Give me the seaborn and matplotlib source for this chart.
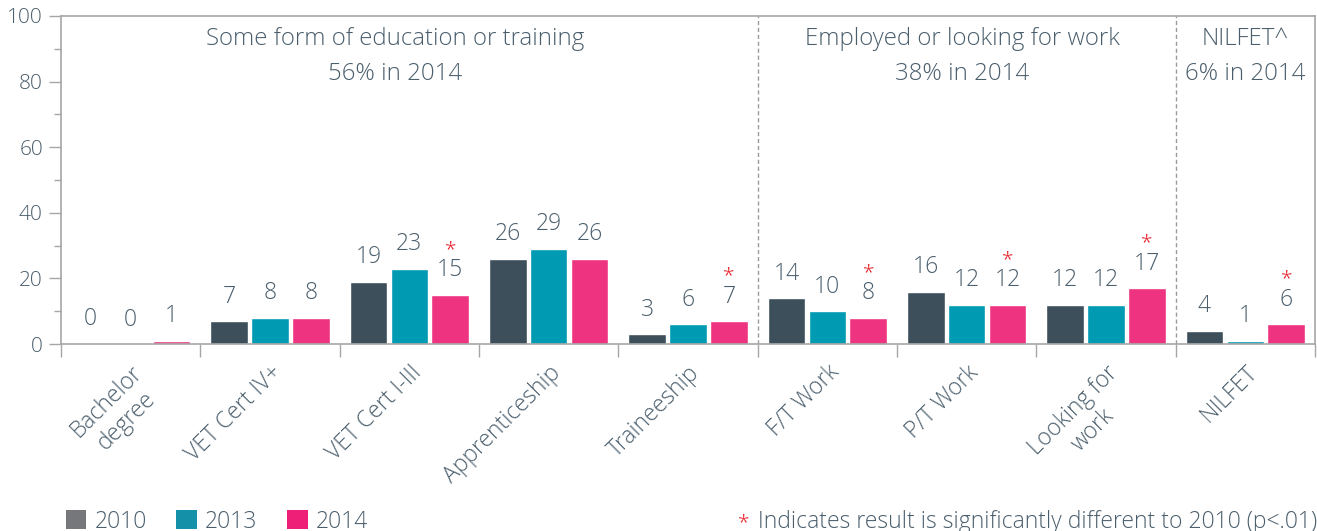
"""
Destinations of young people: 2010 vs 2013 vs 2014, grouped bar chart.
"""

import numpy as np
import pandas as pd
import matplotlib
matplotlib.use("Agg")
import matplotlib.pyplot as plt
from matplotlib.patches import Patch
from matplotlib.ticker import MultipleLocator, FixedLocator
import seaborn as sns

# ---- data -----------------------------------------------------------------
categories = ["Bachelor\ndegree", "VET Cert IV+", "VET Cert I-III", "Apprenticeship",
              "Traineeship", "F/T Work", "P/T Work", "Looking for\nwork", "NILFET"]
years = ["2010", "2013", "2014"]
values_2010 = [0.2, 7, 19, 26, 3, 14, 16, 12, 4]
values_2013 = [0, 8, 23, 29, 6, 10, 12, 12, 1]
values_2014 = [1, 8, 15, 26, 7, 8, 12, 17, 6]
# 2014 results flagged as significantly different to 2010
significant_2014 = [False, False, True, False, True, True, True, True, True]

section_titles = ["Some form of education or training\n56% in 2014",
                  "Employed or looking for work\n38% in 2014",
                  "NILFET^\n6% in 2014"]
section_spans = [(0, 4), (5, 7), (8, 8)]

bar_colors = ["#3c4f5b", "#009ab3", "#ee3480"]
legend_colors = ["#76777b", "#1490a8", "#ee1f76"]
text_color = "#4a5e6c"
spine_color = "#a6a6a6"

# ---- styling --------------------------------------------------------------
sns.set_style("white")
plt.rcParams["font.family"] = ["Open Sans", "DejaVu Sans"]
plt.rcParams["font.weight"] = "light"

df = pd.DataFrame({
    "category": categories * 3,
    "year": np.repeat(years, len(categories)),
    "value": values_2010 + values_2013 + values_2014,
})

fig = plt.figure(figsize=(13.17, 5.31), dpi=100)
ax = fig.add_axes([0.0463, 0.352, 0.9522, 0.618])

sns.barplot(data=df, x="category", y="value", hue="year", order=categories,
            hue_order=years, palette=bar_colors, width=0.88, gap=0.08,
            legend=False, ax=ax, saturation=1)

# value labels above bars
for cont in ax.containers:
    labels = [f"{round(b.get_height())}" for b in cont]
    ax.bar_label(cont, labels=labels, padding=9, fontsize=16.5, color=text_color)

# red asterisks above flagged 2014 bars
for bar, flag in zip(ax.containers[2], significant_2014):
    if flag:
        ax.annotate("*", xy=(bar.get_x() + bar.get_width() / 2, bar.get_height()),
                    xytext=(0, 25), textcoords="offset points", ha="center",
                    va="bottom", fontsize=15, color="#e8202a")

# section separators and titles (first title sits a little left of its span centre)
title_shift = [-0.1, -0.03, 0.0]
for start, end in section_spans[:-1]:
    ax.axvline(end + 0.5, color="#9a9a9a", lw=1, ls=(0, (3, 2)))
for title, (start, end), dx in zip(section_titles, section_spans, title_shift):
    ax.text((start + end) / 2 + dx, 0.967, title, transform=ax.get_xaxis_transform(),
            ha="center", va="top", fontsize=17.3, color=text_color, linespacing=1.6)

# axes
ax.set_xlim(-0.5, len(categories) - 0.5)
ax.set_ylim(0, 100)
ax.set_xlabel("")
ax.set_ylabel("")
ax.yaxis.set_major_locator(MultipleLocator(20))
ax.yaxis.set_minor_locator(MultipleLocator(10))
ax.tick_params(axis="y", which="major", length=9, width=1, color=spine_color,
               labelsize=15, labelcolor=text_color, pad=4, left=True)
ax.tick_params(axis="y", which="minor", length=5, width=1, color=spine_color, left=True)

ax.set_xticks(range(len(categories)))
ax.set_xticklabels(categories, rotation=45, ha="right", rotation_mode="anchor",
                   fontsize=16.5, color=text_color, multialignment="center")
ax.xaxis.set_minor_locator(FixedLocator(np.arange(-0.5, len(categories), 1)))
ax.tick_params(axis="x", which="major", length=0, pad=12)
ax.tick_params(axis="x", which="minor", length=9, width=1, color=spine_color, bottom=True)

for side in ["left", "right", "top", "bottom"]:
    ax.spines[side].set_visible(True)
    ax.spines[side].set_color(spine_color)
    ax.spines[side].set_linewidth(1.2)

# legend and footnote
handles = [Patch(facecolor=c, edgecolor="none", label=y) for c, y in zip(legend_colors, years)]
fig.legend(handles=handles, loc="lower left", bbox_to_anchor=(0.043, -0.022), ncol=3,
           frameon=False, fontsize=16.5, handlelength=0.9, handleheight=0.9,
           handletextpad=0.35, columnspacing=1.3, labelcolor=text_color,
           borderaxespad=0)
fig.text(0.5605, 0.006, "*", color="#e8202a", fontsize=15, va="baseline")
fig.text(0.5755, 0.006, "Indicates result is significantly different to 2010 (p<.01)",
         color=text_color, fontsize=16.5, va="baseline")

fig.savefig("out.png", dpi=100)
